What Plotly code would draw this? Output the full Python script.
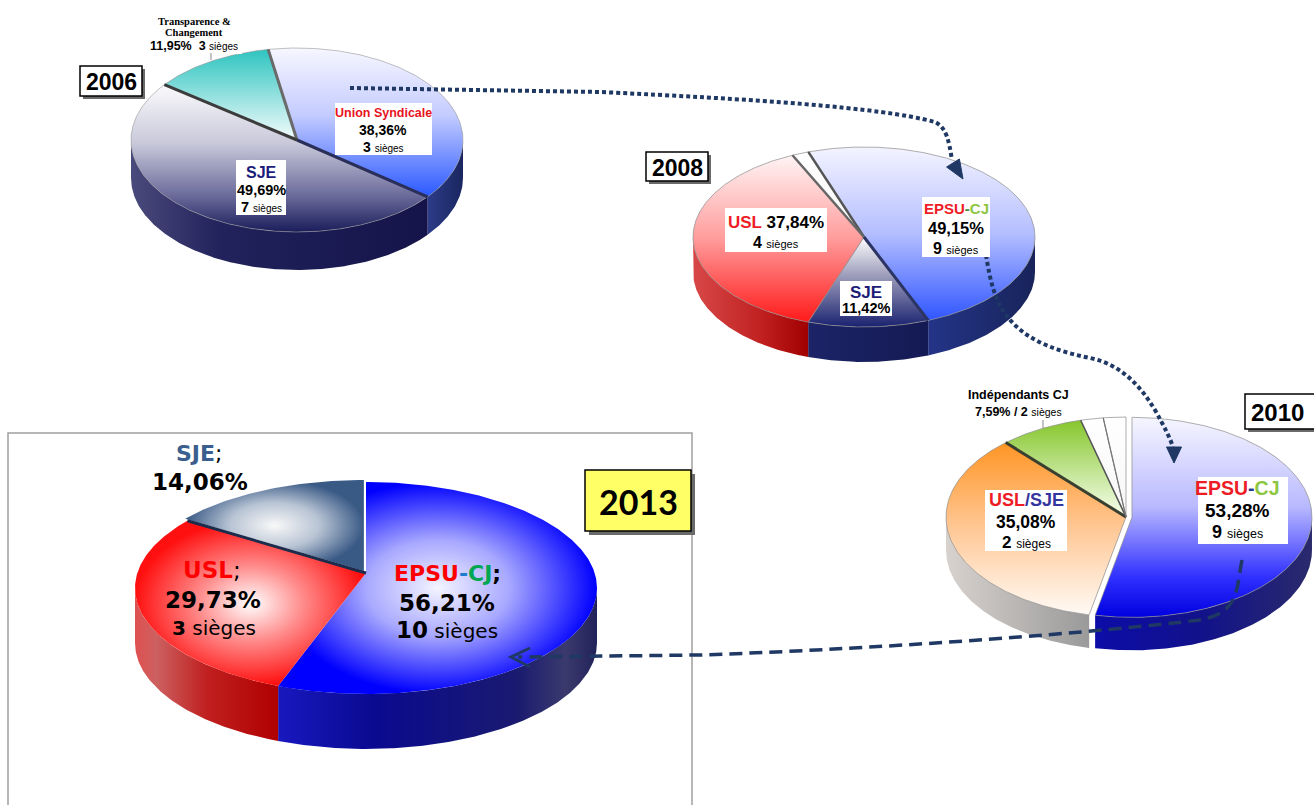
import numpy as np
import plotly.graph_objects as go

# ---------------- data ----------------
years = ["2006", "2008", "2010", "2013"]

parties_2006 = ["Union Syndicale", "SJE", "Transparence & Changement"]
votes_2006 = [38.36, 49.69, 11.95]
seats_2006 = [3, 7, 3]

parties_2008 = ["EPSU-CJ", "SJE", "USL", "Autres"]
votes_2008 = [49.15, 11.42, 37.84, 1.59]
seats_2008 = [9, None, 4, None]

parties_2010 = ["EPSU-CJ", "USL/SJE", "Indépendants CJ", "Autres A", "Autres B"]
votes_2010 = [53.28, 35.08, 7.59, 2.03, 2.02]
seats_2010 = [9, 2, 2, None, None]

parties_2013 = ["EPSU-CJ", "USL", "SJE"]
votes_2013 = [56.21, 29.73, 14.06]
seats_2013 = [10, 3, None]

# ---------------- helpers ----------------
W, H = 1314, 805
fig = go.Figure()


def pct(v):
    return f"{v:.2f}".replace(".", ",") + "%"


def arc_pts(cx, cy, rx, ry, a0, a1):
    n = max(6, int(abs(a1 - a0) * 1.5) + 2)
    t = np.radians(np.linspace(a0, a1, n))
    return cx + rx * np.sin(t), cy - ry * np.cos(t)


def draw_pie(values, geo, tops, sides, explode, outline, seps):
    cx, cy, rx, ry, depth, start, apex_dy = geo
    vals = np.asarray(values, dtype=float)
    bounds = start + 360.0 * np.concatenate([[0], np.cumsum(vals)]) / vals.sum()
    offs = []
    for i in range(len(vals)):
        mid = np.radians((bounds[i] + bounds[i + 1]) / 2)
        d = explode[i]
        offs.append((d * np.sin(mid), -d * np.cos(mid) * ry / rx))
    # side walls (front half only)
    for i in range(len(vals)):
        a0, a1 = bounds[i], bounds[i + 1]
        ox, oy = offs[i]
        for k in (-1, 0, 1):
            lo, hi = max(a0, 90 + 360 * k), min(a1, 270 + 360 * k)
            if hi - lo > 0.01:
                xt, yt = arc_pts(cx + ox, cy + oy, rx, ry, lo, hi)
                xs = np.concatenate([xt, xt[::-1], xt[:1]])
                ys = np.concatenate([yt, yt[::-1] + depth, yt[:1]])
                fig.add_trace(go.Scatter(
                    x=xs, y=ys, mode="lines", fill="toself",
                    line=dict(width=0), fillcolor=sides[i][-1][1],
                    fillgradient=dict(type="horizontal", colorscale=sides[i],
                                      start=float(xt.min()), stop=float(xt.max())),
                    hoverinfo="skip"))
    # top faces
    for i in range(len(vals)):
        a0, a1 = bounds[i], bounds[i + 1]
        ox, oy = offs[i]
        xt, yt = arc_pts(cx + ox, cy + oy, rx, ry, a0, a1)
        px, py = cx + ox, cy + oy + apex_dy
        xs = np.concatenate([[px], xt, [px]])
        ys = np.concatenate([[py], yt, [py]])
        kind, cs = tops[i]
        fg = dict(type=kind, colorscale=cs)
        if kind == "vertical":
            fg.update(start=float(ys.min()), stop=float(ys.max()))
        fig.add_trace(go.Scatter(
            x=xs, y=ys, mode="lines", fill="toself",
            line=dict(color=outline[0], width=outline[1]),
            fillcolor=cs[-1][1], fillgradient=fg, hoverinfo="skip"))
    # separators
    for j, (col, wid) in seps.items():
        a = np.radians(bounds[j])
        fig.add_trace(go.Scatter(
            x=[cx, cx + rx * np.sin(a)], y=[cy + apex_dy, cy - ry * np.cos(a)],
            mode="lines", line=dict(color=col, width=wid), hoverinfo="skip"))


def txt(x, y, html, size, family="Liberation Sans", color="black", xanchor="center"):
    fig.add_annotation(x=x, y=y, xref="x", yref="y", text=html, showarrow=False,
                       xanchor=xanchor, yanchor="middle",
                       font=dict(size=size, family=family, color=color))


def box(x0, y0, x1, y1, fill="white", line=None, lw=0):
    fig.add_shape(type="rect", x0=x0, y0=y0, x1=x1, y1=y1, xref="x", yref="y",
                  fillcolor=fill, line=dict(color=line or fill, width=lw), layer="above")


def sp(s, color=None, size=None, bold=False):
    st = []
    if color:
        st.append(f"color:{color}")
    if size:
        st.append(f"font-size:{size}px")
    inner = f"<b>{s}</b>" if bold else s
    return f"<span style='{';'.join(st)}'>{inner}</span>" if st else inner


def epsu(name, c_epsu, c_dash, c_cj):
    a, b = name.split("-")
    return sp(a, c_epsu) + sp("-", c_dash) + sp(b, c_cj)


NAVY = "#1f3864"

# ---------------- 2013 frame ----------------
fig.add_shape(type="rect", x0=8, y0=433, x1=692, y1=830, xref="x", yref="y",
              line=dict(color="#a0a0a0", width=1.5), fillcolor="rgba(0,0,0,0)", layer="below")

# ---------------- 2006 ----------------
draw_pie(votes_2006, (297, 140, 166, 92, 38, -10, 0),
         tops=[("vertical", [[0, "#f7f7ff"], [0.45, "#c4ccff"], [1, "#2a58ff"]]),
               ("vertical", [[0, "#fbfbfd"], [0.4, "#c8c8da"], [0.75, "#6c6c9c"], [1, "#1a1d5a"]]),
               ("vertical", [[0, "#2ec4c0"], [1, "#f4fcfc"]])],
         sides=[[[0, "#2c3c88"], [1, "#1a2660"]],
                [[0, "#4a4a7c"], [0.3, "#22225c"], [1, "#14144a"]],
                [[0, "#208080"], [1, "#208080"]]],
         explode=[0, 0, 0], outline=("rgba(150,150,150,0.6)", 1),
         seps={0: ("#6a6a6a", 3), 1: ("#2a2f5a", 3), 2: ("#3c3c3c", 3)})

# ---------------- 2008 ----------------
draw_pie(votes_2008, (864, 237, 171, 90, 35, -19, 0),
         tops=[("vertical", [[0, "#f4f4ff"], [0.5, "#b4beff"], [1, "#2f55ff"]]),
               ("vertical", [[0, "#ffffff"], [0.45, "#9898b8"], [1, "#1a2270"]]),
               ("vertical", [[0, "#fff4f4"], [0.5, "#ff9c9c"], [1, "#ff1a1a"]]),
               ("vertical", [[0, "#ffffff"], [1, "#f6f6f6"]])],
         sides=[[[0, "#243488"], [1, "#18245a"]],
                [[0, "#1c2468"], [1, "#141a52"]],
                [[0, "#d84848"], [0.6, "#c02020"], [1, "#a00000"]],
                [[0, "#dddddd"], [1, "#cccccc"]]],
         explode=[0, 0, 0, 0], outline=("rgba(140,140,140,0.7)", 1),
         seps={0: ("#555555", 2.5), 1: ("#2b3462", 3), 3: ("#666666", 2.5)})

# ---------------- 2010 ----------------
draw_pie(votes_2010, (1126, 517, 180, 100, 33, 0, 0),
         tops=[("vertical", [[0, "#f6f6ff"], [0.45, "#b8b8ff"], [0.8, "#3030ff"], [1, "#0000e0"]]),
               ("vertical", [[0, "#ff9524"], [0.5, "#ffc896"], [1, "#fffaf5"]]),
               ("vertical", [[0, "#86c62c"], [1, "#f8fff0"]]),
               ("vertical", [[0, "#ffffff"], [1, "#f6f6f6"]]),
               ("vertical", [[0, "#ffffff"], [1, "#f6f6f6"]])],
         sides=[[[0, "#0c0ca8"], [0.5, "#12128a"], [1, "#2a2a6c"]],
                [[0, "#d8d2ce"], [1, "#9a9a9a"]],
                [[0, "#bbbbbb"], [1, "#bbbbbb"]],
                [[0, "#dddddd"], [1, "#dddddd"]],
                [[0, "#dddddd"], [1, "#dddddd"]]],
         explode=[6, 0, 0, 0, 0], outline=("rgba(140,140,140,0.7)", 1),
         seps={2: ("#3a4030", 3), 3: ("#555555", 1.5), 4: ("#777777", 1.2)})

# ---------------- 2013 ----------------
draw_pie(votes_2013, (366, 588, 231, 106, 55, 0, -15),
         tops=[("radial", [[0, "#f4f4ff"], [0.45, "#a8a8ff"], [1, "#0000ff"]]),
               ("radial", [[0, "#ffffff"], [0.45, "#ff8c8c"], [1, "#ff1010"]]),
               ("radial", [[0, "#f8f8f8"], [0.5, "#b8c4d4"], [1, "#3a5a86"]])],
         sides=[[[0, "#1818c0"], [0.3, "#0a0a90"], [0.75, "#1a1a70"], [0.9, "#3a3a6e"], [1, "#22225a"]],
                [[0, "#e05050"], [0.15, "#cc6060"], [0.5, "#c02020"], [1, "#b00000"]],
                [[0, "#3a5a86"], [1, "#3a5a86"]]],
         explode=[0, 0, 5], outline=("rgba(0,0,0,0)", 0),
         seps={2: ("#1c2c4c", 3)})

# ---------------- arrows ----------------
def head(tip, base, half=7.5):
    tx, ty = tip
    bx, by = base
    d = np.array([tx - bx, ty - by], float)
    d /= np.hypot(*d)
    p = np.array([-d[1], d[0]]) * half
    pts = [(tx, ty), (bx + p[0], by + p[1]), (bx - p[0], by - p[1])]
    path = "M " + " L ".join(f"{a:.1f} {b:.1f}" for a, b in pts) + " Z"
    fig.add_shape(type="path", path=path, xref="x", yref="y", fillcolor=NAVY,
                  line=dict(color=NAVY, width=1), layer="above")


fig.add_shape(type="path", xref="x", yref="y", layer="above",
              path="M 350 88 L 600 92 C 750 99, 880 107, 935 122 C 947 128, 949 142, 952 160",
              line=dict(color=NAVY, width=4, dash="4px,3px"))
head((963, 179), (953, 163))

fig.add_shape(type="path", xref="x", yref="y", layer="above",
              path="M 986 255 C 990 280, 995 305, 1012 322 C 1030 342, 1060 352, 1090 358 "
                   "C 1120 364, 1140 385, 1155 410 C 1165 428, 1170 438, 1173 447",
              line=dict(color=NAVY, width=4, dash="4px,3px"))
head((1174, 463), (1174, 447))

fig.add_shape(type="path", xref="x", yref="y", layer="above",
              path="M 1242 560 C 1236 590, 1240 612, 1200 620 C 1100 632, 900 648, 700 655 L 518 657",
              line=dict(color=NAVY, width=3.5, dash="13px,7px"))
fig.add_shape(type="path", xref="x", yref="y", layer="above",
              path="M 530 648 L 511 657 L 530 667",
              line=dict(color=NAVY, width=3))

# ---------------- year boxes ----------------
def year_box(x0, y0, x1, y1, label, fill="white", size=23, family="Liberation Sans", sh=3,
             text_x=None):
    box(x0 + sh, y0 + sh, x1 + sh, y1 + sh, fill="#6a6a6a")
    box(x0, y0, x1, y1, fill=fill, line="black", lw=1.5)
    if text_x is None:
        txt((x0 + x1) / 2, (y0 + y1) / 2 + 1, f"<b>{label}</b>", size, family)
    else:
        txt(text_x, (y0 + y1) / 2 + 1, f"<b>{label}</b>", size, family, xanchor="left")


year_box(80, 66, 142, 96, years[0])
year_box(646, 152, 708, 181, years[1])
year_box(1245, 394, 1319, 429, years[2], size=24, text_x=1249)
year_box(585, 470, 691, 531, years[3], fill="#ffff66", size=34, family="Lato", sh=4)

# ---------------- labels 2006 ----------------
t1, t2 = parties_2006[2].split(" & ")
box(146, 13, 242, 54)
txt(194, 21, f"<b>{t1} &amp;</b>", 10.5, "Liberation Serif")
txt(194, 32, f"<b>{t2}</b>", 10.5, "Liberation Serif")
txt(194, 46, f"<b>{pct(votes_2006[2])}</b>\u00a0\u00a0<b>{seats_2006[2]}</b> " + sp("sièges", size=10), 12.5)
fig.add_shape(type="line", x0=211, y0=53, x1=211, y1=60, xref="x", yref="y",
              line=dict(color="#888888", width=1), layer="above")

box(335, 103, 432, 155)
txt(383, 113, sp(parties_2006[0], "#e8141e", bold=True), 12.5)
txt(383, 130, f"<b>{pct(votes_2006[0])}</b>", 14)
txt(383, 147, f"<b>{seats_2006[0]}</b> " + sp("sièges", size=10), 14)

box(236, 160, 286, 215)
txt(261, 172, sp(parties_2006[1], "#1c1c7a", bold=True), 16)
txt(261, 190, f"<b>{pct(votes_2006[1])}</b>", 14.5)
txt(261, 207, f"<b>{seats_2006[1]}</b> " + sp("sièges", size=10), 14.5)

# ---------------- labels 2008 ----------------
box(725, 208, 827, 252)
txt(776, 222, "<b>" + sp(parties_2008[2], "#ee1c25") + f" {pct(votes_2008[2])}</b>", 17)
txt(776, 242, f"<b>{seats_2008[2]}</b> " + sp("sièges", size=11), 16)

box(922, 197, 990, 257)
txt(956, 208, "<b>" + epsu(parties_2008[0], "#ee1c25", "#3c8c3c", "#8dc63f") + "</b>", 15)
txt(956, 228, f"<b>{pct(votes_2008[0])}</b>", 16.5)
txt(956, 248, f"<b>{seats_2008[0]}</b> " + sp("sièges", size=11), 16)

box(840, 281, 892, 316)
txt(866, 292, sp(parties_2008[1], "#1c1c78", bold=True), 17)
txt(866, 308, f"<b>{pct(votes_2008[1])}</b>", 14.5)

# ---------------- labels 2010 ----------------
box(963, 386, 1073, 420)
txt(1018, 395, f"<b>{parties_2010[2]}</b>", 12.5)
txt(1018, 412, f"<b>{pct(votes_2010[2])} / {seats_2010[2]}</b> " + sp("sièges", size=10.5), 12.5)
fig.add_shape(type="line", x0=1043, y0=420, x1=1043, y1=428, xref="x", yref="y",
              line=dict(color="#888888", width=1), layer="above")

u1, u2 = parties_2010[1].split("/")
box(985, 490, 1067, 551)
txt(1026, 500, "<b>" + sp(u1, "#ee1c25") + sp("/" + u2, "#3535a0") + "</b>", 18)
txt(1026, 522, f"<b>{pct(votes_2010[1])}</b>", 17.5)
txt(1026, 542, f"<b>{seats_2010[1]}</b> " + sp("sièges", size=12), 17)

box(1198, 477, 1288, 544)
txt(1237, 488, "<b>" + epsu(parties_2010[0], "#ee1c25", "#1f3a8c", "#8dc63f") + "</b>", 19.5)
txt(1237, 510, f"<b>{pct(votes_2010[0])}</b>", 19)
txt(1237, 532, f"<b>{seats_2010[0]}</b> " + sp("sièges", size=12.5), 18)

# ---------------- labels 2013 ----------------
F13 = "DejaVu Sans"
txt(199, 453, sp(parties_2013[2], "#3a5f8e", bold=True) + ";", 22, F13)
txt(200, 482, f"<b>{pct(votes_2013[2])}</b>", 23, F13)

txt(212, 570, sp(parties_2013[1], "#ff0000", bold=True) + ";", 23, F13)
txt(213, 600, f"<b>{pct(votes_2013[1])}</b>", 23, F13)
txt(214, 628, f"<b>{seats_2013[1]}</b> sièges", 20, F13)

txt(447, 573, "<b>" + epsu(parties_2013[0], "#ff0000", "#1f7bd0", "#00a651") + ";</b>", 22, F13)
txt(447, 603, f"<b>{pct(votes_2013[0])}</b>", 23, F13)
txt(447, 630, sp(str(seats_2013[0]), size=23, bold=True) + " sièges", 20, F13)

# ---------------- layout ----------------
fig.update_layout(
    width=W, height=H, margin=dict(l=0, r=0, t=0, b=0),
    paper_bgcolor="white", plot_bgcolor="white", showlegend=False,
    xaxis=dict(range=[0, W], visible=False, fixedrange=True),
    yaxis=dict(range=[H, 0], visible=False, fixedrange=True),
)
fig.write_html("out.html")
